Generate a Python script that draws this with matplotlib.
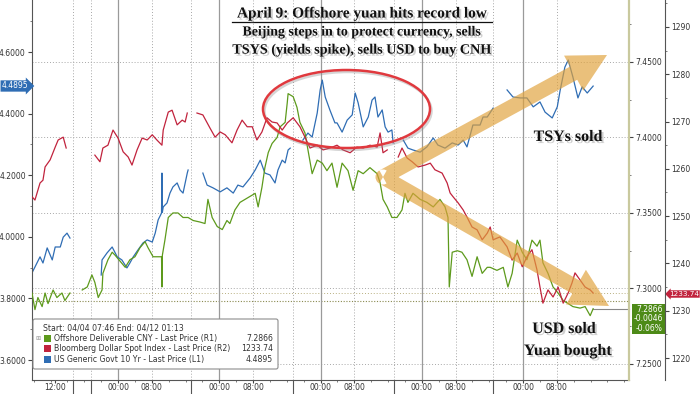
import numpy as np
import matplotlib
matplotlib.use("Agg")
import matplotlib.pyplot as plt
from matplotlib import patches, patheffects, transforms
from matplotlib.path import Path
from matplotlib.ticker import FormatStrFormatter, FixedLocator

# x = hours from Mon 04/07 00:00, weekend gap squeezed out (Fri 12:00 -> -15)
# US 10y yield (L1)
ust_segs = [
    [(-20.4, 3.883), (-19.7, 3.902), (-18.5, 3.935), (-17.8, 3.915), (-16.8, 3.964), (-15.6, 3.925),
     (-14.9, 3.967), (-13.7, 3.967), (-13.0, 3.999), (-12.1, 4.012), (-11.4, 3.996)],
    [(-4.0, 3.876), (-3.8, 3.925), (-2.6, 3.948), (-1.4, 3.967), (-0.2, 3.935), (0.9, 3.925),
     (2.1, 3.899), (2.8, 3.915), (3.6, 3.935), (4.7, 3.957), (5.9, 3.980), (6.9, 3.990),
     (8.1, 3.983), (8.8, 4.012), (9.5, 4.055), (10.3, 4.077), (10.4, 4.207), (10.5, 4.080),
     (10.7, 4.097), (11.6, 4.110), (12.3, 4.142), (13.0, 4.162), (14.0, 4.175), (14.7, 4.152),
     (15.4, 4.142), (16.4, 4.207), (16.6, 4.217)],
    [(20.1, 4.207), (21.1, 4.168), (22.5, 4.159), (24.2, 4.146), (25.8, 4.159), (27.3, 4.142),
     (28.4, 4.168), (29.6, 4.162), (31.3, 4.191), (32.5, 4.217), (33.7, 4.249), (34.8, 4.207),
     (36.0, 4.201), (37.2, 4.175), (37.9, 4.217), (38.9, 4.249), (39.6, 4.240), (40.3, 4.282),
     (40.8, 4.288)],
    [(43.8, 4.314), (45.0, 4.337), (46.0, 4.324), (47.2, 4.402), (47.9, 4.477), (48.4, 4.509),
     (49.1, 4.454), (50.2, 4.412), (51.4, 4.370), (51.9, 4.370), (53.1, 4.340), (54.3, 4.379),
     (55.5, 4.396), (56.2, 4.467), (56.9, 4.435), (58.1, 4.357), (59.3, 4.389), (60.2, 4.444),
     (60.9, 4.454), (61.6, 4.389), (62.6, 4.412), (63.3, 4.357), (64.0, 4.340), (64.9, 4.347),
     (65.2, 4.305)],
    [(67.6, 4.314), (68.7, 4.288), (69.9, 4.282), (71.6, 4.275), (73.2, 4.292), (74.7, 4.321),
     (75.8, 4.298), (77.5, 4.288), (79.2, 4.305), (80.6, 4.298), (81.8, 4.314), (82.7, 4.292),
     (84.1, 4.363), (85.8, 4.363), (86.5, 4.389), (87.5, 4.389), (88.9, 4.418)],
    [(92.2, 4.477), (93.6, 4.454), (95.3, 4.451), (96.9, 4.451), (98.4, 4.422), (100.0, 4.438),
     (101.2, 4.405), (102.9, 4.386), (104.1, 4.422), (104.8, 4.477), (105.9, 4.551), (106.7, 4.574),
     (107.8, 4.519), (109.0, 4.451), (110.0, 4.487), (111.2, 4.467), (112.6, 4.4895)],
]

# offshore CNY (R1)
cny_segs = [
    [(-20.4, 7.297), (-19.7, 7.286), (-19.0, 7.294), (-18.0, 7.288), (-17.3, 7.297), (-16.6, 7.290),
     (-15.4, 7.299), (-14.5, 7.294), (-13.3, 7.297), (-12.6, 7.292), (-11.4, 7.297)],
    [(-8.5, 7.299), (-7.3, 7.301), (-6.2, 7.309), (-5.5, 7.304), (-4.7, 7.294), (-3.8, 7.299),
     (-3.6, 7.310), (-2.4, 7.319), (-1.4, 7.324), (-0.7, 7.322), (0.5, 7.318), (1.7, 7.314),
     (2.8, 7.319), (4.0, 7.321), (5.2, 7.327), (6.4, 7.331), (7.1, 7.327), (8.3, 7.321),
     (9.5, 7.321), (10.3, 7.321), (10.4, 7.301), (10.5, 7.322), (11.1, 7.332), (11.9, 7.347),
     (13.0, 7.350), (14.2, 7.350), (15.4, 7.347), (16.6, 7.347), (17.8, 7.345), (19.4, 7.344),
     (20.6, 7.343), (21.3, 7.359), (22.3, 7.347), (23.5, 7.341), (24.7, 7.339), (25.8, 7.345),
     (26.5, 7.343), (27.7, 7.352), (28.9, 7.357), (30.1, 7.359), (31.3, 7.361), (32.5, 7.363),
     (33.2, 7.354), (34.1, 7.367), (34.8, 7.380), (35.6, 7.390), (36.5, 7.396), (37.7, 7.400),
     (38.4, 7.407), (39.6, 7.410), (40.1, 7.423), (40.3, 7.429), (41.5, 7.427), (42.4, 7.420),
     (43.1, 7.410), (44.3, 7.403), (45.0, 7.392), (46.0, 7.376), (47.2, 7.385), (48.4, 7.383),
     (49.5, 7.378), (50.7, 7.383), (51.9, 7.367), (53.1, 7.383), (54.5, 7.378), (55.7, 7.365),
     (56.9, 7.378), (58.1, 7.376), (59.7, 7.380), (61.4, 7.376), (62.1, 7.370), (62.8, 7.359),
     (63.8, 7.354), (64.9, 7.347), (66.1, 7.347), (67.3, 7.352), (68.0, 7.363), (68.7, 7.357),
     (69.9, 7.363), (71.6, 7.359), (73.2, 7.357), (74.7, 7.354), (76.3, 7.359), (77.5, 7.354),
     (78.2, 7.347), (78.5, 7.301), (79.2, 7.324), (80.4, 7.325), (81.5, 7.324), (82.7, 7.319),
     (83.9, 7.308), (85.1, 7.321), (86.3, 7.310), (87.5, 7.314), (88.2, 7.314), (89.8, 7.312),
     (91.3, 7.314), (92.4, 7.301), (93.4, 7.310), (94.6, 7.332), (95.8, 7.324), (96.9, 7.319),
     (98.1, 7.332), (99.3, 7.328), (100.0, 7.332), (100.7, 7.317), (101.9, 7.310), (103.1, 7.301),
     (104.3, 7.297), (105.5, 7.292), (106.7, 7.290), (107.8, 7.288), (109.5, 7.287), (110.7, 7.288),
     (111.9, 7.282), (112.6, 7.2866)],
]

# Bloomberg dollar index (R2)
bbdxy_segs = [
    [(-20.4, 1254.1), (-19.7, 1253.4), (-18.5, 1257.0), (-17.8, 1257.6), (-17.3, 1260.4), (-16.1, 1261.9),
     (-14.9, 1264.6), (-14.2, 1266.1), (-13.0, 1266.7), (-12.3, 1264.4)],
    [(-5.5, 1262.9), (-4.3, 1261.5), (-3.6, 1264.4), (-2.4, 1265.0), (-1.2, 1268.2), (0.0, 1266.5),
     (1.2, 1263.6), (2.4, 1262.5), (3.3, 1260.8), (4.5, 1264.0), (5.7, 1266.5), (6.9, 1266.1),
     (8.1, 1267.2), (9.2, 1266.1), (10.4, 1265.0), (10.7, 1268.2), (11.9, 1272.0), (12.8, 1272.4),
     (14.0, 1269.3), (15.2, 1270.3), (15.9, 1269.9), (16.4, 1271.8)],
    [(18.7, 1271.8), (20.1, 1271.4), (21.8, 1268.6), (23.0, 1266.7), (24.2, 1267.8), (25.4, 1267.2),
     (27.0, 1265.5), (28.2, 1268.2), (29.4, 1270.3), (30.6, 1268.9), (31.8, 1268.9), (32.9, 1266.1),
     (34.1, 1267.8), (35.3, 1270.8), (36.5, 1269.9), (37.7, 1269.7), (38.9, 1268.2), (40.1, 1269.7),
     (41.5, 1270.8), (43.1, 1268.9), (44.3, 1266.7), (45.5, 1264.4), (47.2, 1265.0), (48.6, 1264.0),
     (50.2, 1264.4), (51.9, 1265.0), (53.3, 1264.0), (55.0, 1263.4), (56.6, 1264.6), (58.1, 1264.4),
     (59.7, 1265.0), (61.4, 1264.6), (62.1, 1267.6), (62.8, 1263.4), (63.8, 1264.0)],
    [(66.4, 1262.5), (67.3, 1264.4), (68.5, 1262.3), (69.7, 1261.5), (71.1, 1260.4), (72.8, 1260.8),
     (74.0, 1261.2), (75.1, 1259.8), (76.8, 1259.1), (78.0, 1257.0), (78.7, 1254.9), (79.4, 1254.1),
     (80.6, 1252.8), (81.8, 1251.3), (82.7, 1249.8), (83.9, 1247.7), (85.1, 1247.1), (86.3, 1245.0),
     (87.5, 1246.4), (88.2, 1247.7), (88.9, 1245.0), (90.5, 1245.6), (92.2, 1243.5), (93.4, 1240.7),
     (94.6, 1242.2), (95.8, 1239.3), (96.9, 1241.4), (98.1, 1242.9), (99.3, 1238.6), (100.0, 1235.0),
     (100.7, 1231.6), (101.9, 1234.4), (103.1, 1232.9), (104.3, 1235.0), (105.5, 1231.6), (106.7, 1233.8),
     (107.6, 1235.9), (108.3, 1238.0), (109.5, 1236.5), (110.7, 1235.0), (111.9, 1234.4), (112.6, 1233.74)],
]

xtick_hours = [-15, 0, 8, 24, 32, 48, 56, 72, 80, 96, 104]
xtick_labels = ["12:00", "00:00", "08:00", "00:00", "08:00", "00:00", "08:00",
                "00:00", "08:00", "00:00", "08:00"]
day_starts = [0, 24, 48, 72, 96]
session_marks = [-10.8, -6.4, 17.2, 41.5, 65.5, 88.8]

ust_ticks = [3.6, 3.8, 4.0, 4.2, 4.4, 4.6]
cny_ticks = [7.25, 7.30, 7.35, 7.40, 7.45]
bbdxy_ticks = [1220, 1230, 1240, 1250, 1260, 1270, 1280, 1290]

last_ust, last_cny, last_bbdxy = 4.4895, 7.2866, 1233.74
chg_cny, chg_cny_pct = -0.0046, -0.06

BLUE = "#2f6db4"
GREEN = "#5d9a1c"
RED = "#c1233d"
TXT = "#333333"


def to_xy(segs):
    xs, ys = [], []
    for seg in segs:
        xs += [p[0] for p in seg] + [np.nan]
        ys += [p[1] for p in seg] + [np.nan]
    return np.array(xs), np.array(ys)


fig = plt.figure(figsize=(7.0, 3.94), dpi=100)
fig.patch.set_facecolor("white")
# pixel coordinates measured from the top-left corner of the image
pt = transforms.Affine2D().scale(1 / 700, -1 / 394).translate(0, 1) + fig.transFigure

ax = fig.add_axes([32 / 700, 14 / 394, 597 / 700, 380 / 394])
r1 = ax.twinx()
r2 = ax.twinx()

ax.set_xlim(-20.4, 121.1)
ax.set_ylim(3.5351, 4.769)
r1.set_ylim(7.2394, 7.491)
r2.set_ylim(1215.35, 1295.7)

# grid
grid_tr = transforms.blended_transform_factory(ax.transAxes, r1.transData)
for v in cny_ticks:
    ax.plot([0, 1], [v, v], transform=grid_tr, color="#a8a8a8", lw=0.7, ls=(0, (1, 2)), zorder=0)
ax.plot([0, 1], [7.2917, 7.2917], transform=grid_tr, color="#8a8a50", lw=0.8, ls=(0, (1, 1.5)), zorder=0)
lvl_tr = transforms.blended_transform_factory(ax.transAxes, r2.transData)
ax.plot([0, 1], [last_bbdxy, last_bbdxy], transform=lvl_tr, color="#b9b080", lw=0.7, ls=(0, (1, 2)), zorder=0)
for d in day_starts:
    ax.axvline(d, color="#9a9a9a", lw=0.9, zorder=0)
for h in [8, 32, 56, 80, 104] + session_marks:
    ax.axvline(h, color="#a8a8a8", lw=0.7, ls=(0, (1, 2)), zorder=0)

x, y = to_xy(ust_segs)
ax.plot(x, y, color=BLUE, lw=0.9)
x, y = to_xy(cny_segs)
r1.plot(x, y, color=GREEN, lw=0.9)
x, y = to_xy(bbdxy_segs)
r2.plot(x, y, color=RED, lw=0.9)

# axes styling
for s in ["top", "right"]:
    ax.spines[s].set_visible(False)
for a in (r1, r2):
    for s in ["top", "left", "bottom"]:
        a.spines[s].set_visible(False)
ax.spines["left"].set_color("#555555")
ax.spines["bottom"].set_color("#555555")
r1.spines["right"].set_color("#c9c99e")
r1.spines["right"].set_linewidth(1.6)
r2.spines["right"].set_position(("axes", (665 - 32) / 597))
r2.spines["right"].set_color("#555555")

ax.set_yticks(ust_ticks)
ax.yaxis.set_major_formatter(FormatStrFormatter("%.4f"))
ax.yaxis.set_minor_locator(FixedLocator(np.arange(3.5, 4.8, 0.1)))
r1.set_yticks(cny_ticks)
r1.yaxis.set_major_formatter(FormatStrFormatter("%.4f"))
r1.yaxis.set_minor_locator(FixedLocator(np.arange(7.225, 7.5, 0.025)))
r2.set_yticks(bbdxy_ticks)
r2.yaxis.set_major_formatter(FormatStrFormatter("%d"))
r2.yaxis.set_minor_locator(FixedLocator(np.arange(1215, 1296, 5)))

for a in (ax, r1, r2):
    a.tick_params(axis="y", which="major", length=3, width=0.8, labelsize=5.5, labelcolor=TXT,
                  color="#444444", pad=1.5)
    a.tick_params(axis="y", which="minor", length=1.5, width=0.6, color="#666666")

ax.set_xticks(xtick_hours)
ax.set_xticklabels(xtick_labels)
ax.set_xticks(np.arange(-20, 121, 4), minor=True)
ax.tick_params(axis="x", which="major", length=2, labelsize=5.5, labelcolor=TXT, pad=0.5, color="#444444")
ax.tick_params(axis="x", which="minor", length=1.5, color="#666666")
sep_tr = transforms.blended_transform_factory(ax.transData, ax.transAxes)
for h in session_marks:
    ax.plot([h, h], [0, -0.04], transform=sep_tr, color="#555555", lw=0.8, clip_on=False)

# last-price tags
ax.text(15, 86, f"{last_ust:.4f}", transform=pt, ha="center", va="center", fontsize=5.5, color="white",
        bbox=dict(boxstyle="rarrow,pad=0.15", fc=BLUE, ec="none"))
ax.text(684, 294, f"{last_bbdxy:.2f}", transform=pt, ha="center", va="center", fontsize=5.2, color="white",
        bbox=dict(boxstyle="larrow,pad=0.1", fc=RED, ec="none"), zorder=10, clip_on=False)
ax.text(663, 319, f"{last_cny:.4f}\n{chg_cny:.4f}\n{chg_cny_pct:.2f}%", transform=pt, ha="right",
        va="center", multialignment="right", fontsize=5.5, color="white", linespacing=1.05,
        bbox=dict(boxstyle="square,pad=0.2", fc="#4d8a17", ec="none"), zorder=10, clip_on=False)
ax.plot([593, 629], [309, 309], transform=pt, color="#888888", lw=0.8, clip_on=False)

# legend box
leg = patches.FancyBboxPatch((33, 319), 245, 50, boxstyle="round,pad=0,rounding_size=2",
                             transform=pt, fc="white", ec="#8c8c8c", lw=0.8, zorder=20)
fig.patches.append(leg)
fig.text(43, 328, "Start: 04/04 07:46 End: 04/12 01:13", transform=pt, fontsize=5.6, color=TXT,
         va="center", zorder=21)
rows = [("Offshore Deliverable CNY - Last Price (R1)", f"{last_cny:.4f}", GREEN),
        ("Bloomberg Dollar Spot Index - Last Price (R2)", f"{last_bbdxy:.2f}", RED),
        ("US Generic Govt 10 Yr - Last Price (L1)", f"{last_ust:.4f}", BLUE)]
for i, (name, val, col) in enumerate(rows):
    yy = 338.5 + i * 10.5
    fig.patches.append(patches.Rectangle((44, yy - 3.5), 7, 7, transform=pt, fc=col, ec="none", zorder=21))
    fig.text(54, yy, name, transform=pt, fontsize=5.6, color=TXT, va="center", zorder=21)
    fig.text(273, yy, val, transform=pt, fontsize=5.6, color=TXT, va="center", ha="right", zorder=21)
fig.text(38, 338.5, "\u229e", transform=pt, fontsize=4.5, color="#999999", va="center", ha="center", zorder=21)

# annotation overlay
shadow = [patheffects.SimplePatchShadow(offset=(1.5, -1.5), shadow_rgbFace="#777777", alpha=0.35),
          patheffects.Normal()]
up = patches.FancyArrow(383, 177, 224, -122, width=15, head_width=40, head_length=38,
                        length_includes_head=True)
down = patches.FancyArrow(383, 177, 226, 129, width=15, head_width=40, head_length=38,
                          length_includes_head=True)
chevron = Path.make_compound_path(up.get_path(), down.get_path(),
                                  Path.circle((383, 177), 7.5))
fig.patches.append(patches.PathPatch(chevron, transform=pt, fc="#e0a23c", ec="none", alpha=0.68,
                                     zorder=5))
# red ring with a soft offset shadow
fig.patches.append(patches.Ellipse((348, 111), 167, 78, transform=pt, fill=False, ec="#888888",
                                   lw=1.8, alpha=0.35, zorder=6))
fig.patches.append(patches.Ellipse((346.5, 109), 167, 78, transform=pt, fill=False, ec="#e0393e",
                                   lw=1.8, zorder=6))

serif = dict(family="Liberation Serif", weight="bold", color="#111111", path_effects=shadow,
             ha="center", va="center", zorder=7)
fig.text(362, 14, "April 9: Offshore yuan hits record low", transform=pt, fontsize=11, **serif)
fig.add_artist(plt.Line2D([232, 492], [22.5, 22.5], transform=pt, color="#111111", lw=0.9))
fig.text(362, 32, "Beijing steps in to protect currency, sells", transform=pt, fontsize=10, **serif)
fig.text(362, 50, "TSYS (yields spike), sells USD to buy CNH", transform=pt, fontsize=10.2, **serif)
fig.text(568, 137, "TSYs sold", transform=pt, fontsize=11.5, **serif)
fig.text(564, 329, "USD sold", transform=pt, fontsize=11.5, **serif)
fig.text(568, 351, "Yuan bought", transform=pt, fontsize=11.5, **serif)

fig.savefig("out.png", dpi=100, facecolor="white")
